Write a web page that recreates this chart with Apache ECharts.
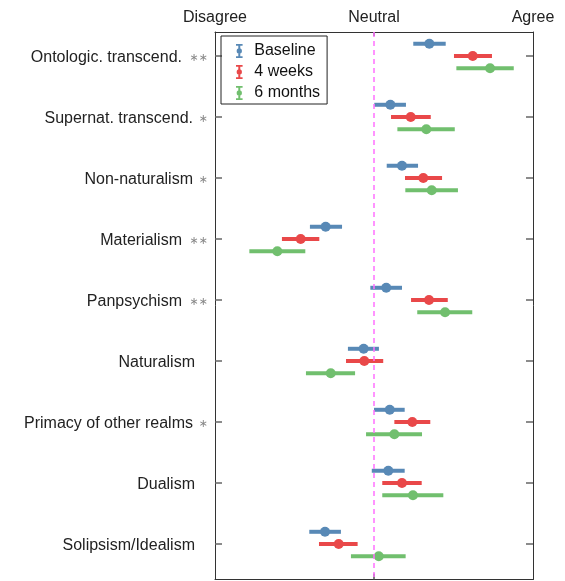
<!DOCTYPE html>
<html>
<head>
<meta charset="utf-8">
<script src="https://cdn.jsdelivr.net/npm/echarts@6/dist/echarts.min.js"></script>
<style>
  html, body { margin: 0; padding: 0; background: #fff; }
  #chart { width: 565px; height: 581px; }
</style>
</head>
<body>
<div id="chart"></div>
<script>
// ---- data ----
const categories = ['Ontologic. transcend.', 'Supernat. transcend.', 'Non-naturalism', 'Materialism',
  'Panpsychism', 'Naturalism', 'Primacy of other realms', 'Dualism', 'Solipsism/Idealism'];
const significance = ['∗∗', '∗', '∗', '∗∗', '∗∗', '', '∗', '', ''];
const xTickLabels = ['Disagree', 'Neutral', 'Agree'];
const seriesNames = ['Baseline', '4 weeks', '6 months'];

// mean, lower, upper (scale: -1 = Disagree, 0 = Neutral, 1 = Agree)
const baselineMean  = [0.348, 0.103, 0.176, -0.304, 0.077, -0.065, 0.099, 0.090, -0.308];
const baselineLow   = [0.247, 0.002, 0.080, -0.403, -0.023, -0.164, 0.000, -0.014, -0.407];
const baselineHigh  = [0.451, 0.201, 0.277, -0.201, 0.176, 0.031, 0.193, 0.193, -0.208];

const weeks4Mean    = [0.621, 0.231, 0.310, -0.461, 0.346, -0.061, 0.241, 0.176, -0.222];
const weeks4Low     = [0.503, 0.107, 0.195, -0.579, 0.233, -0.176, 0.128, 0.052, -0.346];
const weeks4High    = [0.742, 0.357, 0.428, -0.344, 0.464, 0.058, 0.354, 0.300, -0.103];

const months6Mean   = [0.730, 0.329, 0.363, -0.608, 0.447, -0.272, 0.128, 0.245, 0.030];
const months6Low    = [0.518, 0.147, 0.197, -0.784, 0.272, -0.428, -0.050, 0.052, -0.145];
const months6High   = [0.879, 0.508, 0.528, -0.432, 0.618, -0.119, 0.302, 0.436, 0.199];

// ---- styling / layout ----
const colors = ['#5889b6', '#e94849', '#71bf6e'];
const rowOffset = [-0.2, 0, 0.2];
const FONT = '"Liberation Sans", Arial, Helvetica, sans-serif';
const catIdx = categories.map((_, i) => i);

function buildData(mean, low, high, k) {
  return mean.map((m, i) => [m, low[i], high[i], i + rowOffset[k]]);
}
const groups = [
  buildData(baselineMean, baselineLow, baselineHigh, 0),
  buildData(weeks4Mean, weeks4Low, weeks4High, 1),
  buildData(months6Mean, months6Low, months6High, 2)
];

function renderErr(params, api) {
  const y = api.value(3);
  const pM = api.coord([api.value(0), y]);
  const pL = api.coord([api.value(1), y]);
  const pH = api.coord([api.value(2), y]);
  const c = api.visual('color');
  return {
    type: 'group',
    children: [
      { type: 'line', shape: { x1: pL[0], y1: pL[1], x2: pH[0], y2: pH[1] },
        style: { stroke: c, lineWidth: 4, lineCap: 'butt' } },
      { type: 'circle', shape: { cx: pM[0], cy: pM[1], r: 5 }, style: { fill: c } }
    ]
  };
}

const errIcon = 'path://M1,0h8v2h-8z M3.8,0h2.4v17h-2.4z M1,15h8v2h-8z M1.8,8.5a3.2,3.2 0 1,1 6.4,0a3.2,3.2 0 1,1 -6.4,0z';

const series = groups.map((d, k) => ({
  name: seriesNames[k],
  type: 'custom',
  renderItem: renderErr,
  encode: { x: [0, 1, 2], y: 3 },
  itemStyle: { color: colors[k] },
  data: d,
  z: 3
}));
series.unshift({
  type: 'line',
  data: [],
  silent: true,
  z: 1,
  markLine: {
    silent: true,
    symbol: 'none',
    label: { show: false },
    lineStyle: { color: '#ff70ff', type: [5, 4], width: 1.5 },
    data: [{ xAxis: 0 }]
  }
});

const yMin = -0.393, yMax = 8.582;
const axisColor = '#333';

const option = {
  animation: false,
  backgroundColor: '#fff',
  textStyle: { fontFamily: FONT },
  grid: { left: 215, right: 32, top: 32, bottom: 1.5, containLabel: false },
  legend: {
    orient: 'vertical',
    left: 221, top: 36,
    padding: [7, 7, 3, 15],
    itemGap: 5,
    itemWidth: 20, itemHeight: 14,
    borderColor: '#222', borderWidth: 1, borderRadius: 0,
    textStyle: { fontSize: 16, color: '#111', fontFamily: FONT, lineHeight: 16 },
    data: seriesNames.map(n => ({ name: n, icon: errIcon })),
    selectedMode: false
  },
  xAxis: [
    {
      type: 'value', position: 'top', min: -1, max: 1,
      splitLine: { show: false },
      axisLine: { show: true, onZero: false, lineStyle: { color: axisColor, width: 1 } },
      axisTick: { show: true, inside: true, length: 4, customValues: [0], lineStyle: { color: '#555', width: 1.5 } },
      axisLabel: {
        show: true, customValues: [-1, 0, 1], margin: 6,
        fontSize: 16, color: '#222', fontFamily: FONT,
        formatter: v => xTickLabels[Math.round(v) + 1]
      }
    },
    {
      type: 'value', position: 'bottom', min: -1, max: 1,
      splitLine: { show: false },
      axisLine: { show: true, onZero: false, lineStyle: { color: axisColor, width: 1 } },
      axisTick: { show: true, inside: true, length: 6, customValues: [0], lineStyle: { color: '#555', width: 1.5 } },
      axisLabel: { show: false }
    }
  ],
  yAxis: [
    {
      type: 'value', position: 'left', inverse: true, min: yMin, max: yMax,
      splitLine: { show: false },
      axisLine: { show: true, onZero: false, lineStyle: { color: axisColor, width: 1 } },
      axisTick: { show: true, inside: true, length: 7, customValues: catIdx, lineStyle: { color: '#666', width: 1.5 } },
      axisLabel: {
        show: true, customValues: catIdx, margin: 7,
        fontSize: 16, color: '#222', fontFamily: FONT,
        formatter: v => {
          const i = Math.round(v);
          const s = significance[i];
          if (s === '∗∗') return '{n|' + categories[i] + '}{d|' + s + '}';
          if (s === '∗') return '{n|' + categories[i] + '}{s|' + s + '}';
          return '{n|' + categories[i] + '}{e|}';
        },
        rich: {
          n: { fontSize: 16, color: '#222', fontFamily: FONT, lineHeight: 20, verticalAlign: 'middle', padding: [4, 0, 0, 0] },
          d: { fontSize: 11, color: '#888', width: 26, align: 'right', fontFamily: 'DejaVu Sans', lineHeight: 20, verticalAlign: 'middle', padding: [4, 0, 0, 0] },
          s: { fontSize: 11, color: '#888', width: 15, align: 'right', fontFamily: 'DejaVu Sans', lineHeight: 20, verticalAlign: 'middle', padding: [4, 0, 0, 0] },
          e: { width: 13, lineHeight: 20 }
        }
      }
    },
    {
      type: 'value', position: 'right', inverse: true, min: yMin, max: yMax,
      splitLine: { show: false },
      axisLine: { show: true, onZero: false, lineStyle: { color: axisColor, width: 1 } },
      axisTick: { show: true, inside: true, length: 7, customValues: catIdx, lineStyle: { color: '#666', width: 1.5 } },
      axisLabel: { show: false }
    }
  ],
  series: series
};

const chart = echarts.init(document.getElementById('chart'), null, { renderer: 'canvas' });
chart.setOption(option);
</script>
</body>
</html>
